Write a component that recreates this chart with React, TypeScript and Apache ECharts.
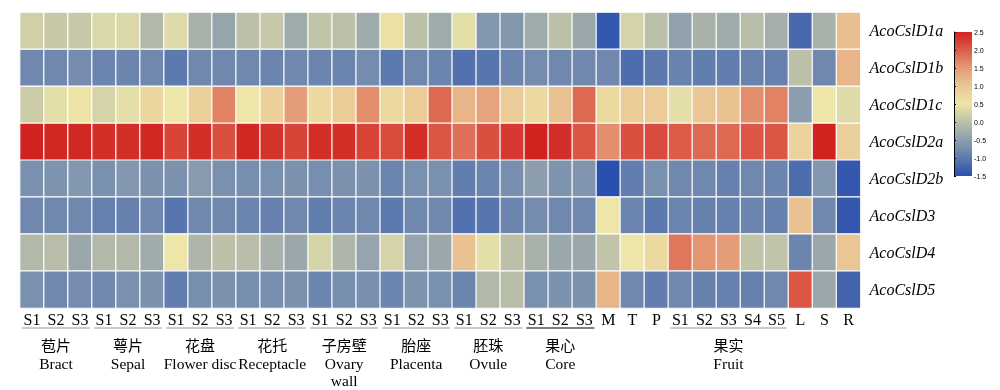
import React, { useEffect, useRef } from "react";
import * as echarts from "echarts";

const colLabels = [
  "S1", "S2", "S3", "S1", "S2", "S3", "S1", "S2", "S3", "S1", "S2", "S3",
  "S1", "S2", "S3", "S1", "S2", "S3", "S1", "S2", "S3", "S1", "S2", "S3",
  "M", "T", "P", "S1", "S2", "S3", "S4", "S5", "L", "S", "R",
];
const groupZh = ["苞片", "萼片", "花盘", "花托", "子房壁", "胎座", "胚珠", "果心", "果实"];
const groupEn = ["Bract", "Sepal", "Flower disc", "Receptacle", "Ovary\nwall", "Placenta", "Ovule", "Core", "Fruit"];
const groupStart = [0, 3, 6, 9, 12, 15, 18, 21, 27];
const groupSize = [3, 3, 3, 3, 3, 3, 3, 3, 5];

const genes = ["AcoCslD1a", "AcoCslD1b", "AcoCslD1c", "AcoCslD2a", "AcoCslD2b", "AcoCslD3", "AcoCslD4", "AcoCslD5"];

const d1a = [0.2, 0.1, 0.1, 0.3, 0.3, -0.1, 0.35, -0.2, -0.4, 0.0, 0.1, -0.3, 0.05, 0.0, -0.3, 0.6, 0.0, -0.3, 0.4, -0.6, -0.6, -0.3, 0.0, -0.35, -1.4, 0.25, 0.0, -0.45, -0.2, -0.3, -0.05, -0.25, -1.2, -0.2, 1.1];
const d1b = [-0.8, -0.8, -0.75, -0.85, -0.85, -0.8, -1.0, -0.8, -0.8, -0.8, -0.85, -0.8, -0.85, -0.85, -0.75, -1.0, -0.8, -0.85, -1.1, -1.05, -0.85, -0.75, -0.8, -0.8, -0.8, -1.15, -1.0, -0.88, -0.95, -0.95, -0.88, -0.9, 0.0, -0.8, 1.2];
const d1c = [0.15, 0.4, 0.55, 0.25, 0.4, 0.75, 0.5, 0.85, 1.7, 0.5, 0.85, 1.5, 0.7, 0.9, 1.6, 0.7, 0.9, 1.9, 1.2, 1.4, 0.9, 0.7, 1.05, 1.9, 0.7, 0.9, 0.9, 0.4, 1.0, 1.05, 1.6, 1.7, -0.5, 0.5, 0.35];
const d2a = [2.5, 2.45, 2.45, 2.4, 2.4, 2.45, 2.2, 2.4, 2.1, 2.45, 2.35, 2.2, 2.4, 2.4, 2.2, 2.15, 2.4, 2.05, 1.85, 2.1, 2.3, 2.5, 2.4, 2.05, 1.6, 2.1, 2.15, 2.0, 1.9, 1.9, 2.05, 2.05, 0.8, 2.5, 0.85];
const d2b = [-0.7, -0.65, -0.6, -0.7, -0.6, -0.68, -0.68, -0.55, -0.7, -0.72, -0.7, -0.68, -0.72, -0.68, -0.68, -0.85, -0.7, -0.7, -0.95, -0.85, -0.72, -0.5, -0.65, -0.62, -1.5, -0.95, -0.7, -0.8, -0.8, -0.9, -0.8, -0.85, -1.15, -0.6, -1.4];
const d3 = [-0.8, -0.8, -0.8, -0.9, -0.9, -0.8, -1.05, -0.8, -0.8, -0.85, -0.9, -0.8, -0.95, -0.85, -0.8, -1.0, -0.8, -0.8, -1.1, -1.05, -0.85, -0.75, -0.8, -0.8, 0.5, -0.85, -1.0, -0.85, -0.9, -0.9, -0.85, -0.9, 1.05, -0.8, -1.4];
const d4 = [-0.1, -0.05, -0.35, -0.1, -0.1, -0.3, 0.5, -0.15, 0.0, -0.05, -0.2, -0.35, 0.25, -0.15, -0.4, 0.25, -0.4, -0.35, 1.05, 0.4, 0.0, -0.2, -0.35, -0.35, 0.05, 0.5, 0.7, 1.8, 1.55, 1.5, 0.05, 0.05, -0.85, -0.35, 1.0];
const d5 = [-0.7, -0.8, -0.75, -0.8, -0.7, -0.68, -0.95, -0.72, -0.68, -0.72, -0.72, -0.68, -0.85, -0.72, -0.72, -0.85, -0.65, -0.7, -0.85, -0.1, -0.05, -0.7, -0.68, -0.68, 1.2, -0.8, -0.95, -0.8, -0.9, -0.9, -0.9, -0.8, 2.05, -0.35, -1.25];
const rows = [d1a, d1b, d1c, d2a, d2b, d3, d4, d5];

const scaleMin = -1.5;
const scaleMax = 2.5;
const scaleStep = 0.5;
// low -> high
const palette = ["#2a4fae", "#5d7aae", "#8c9eae", "#bcc0a8", "#eee6a8", "#eac695", "#e59c78", "#dc5c48", "#d1221f"];

const SERIF = "'Liberation Serif', 'Times New Roman', 'Noto Sans CJK SC', serif";
const CB = { left: 954, top: 32, width: 18, height: 144 };

export default function App() {
  const ref = useRef<HTMLDivElement>(null);
  useEffect(() => {
    if (!ref.current) return;
    const chart = echarts.init(ref.current, null, { renderer: "svg" });
    const data: number[][] = [];
    rows.forEach((r, ri) => r.forEach((v, ci) => data.push([ci, ri, v])));
    chart.setOption({
      animation: false,
      grid: [
        { left: 20, top: 12.5, width: 840.5, height: 295.5 },
        { left: CB.left, top: CB.top, width: CB.width, height: CB.height },
      ],
      xAxis: [
        {
          type: "category",
          gridIndex: 0,
          data: colLabels.map((l, i) => ({ value: i + ":" + l })),
          axisLine: { show: false },
          axisTick: { show: false },
          splitLine: { show: false },
          axisLabel: {
            interval: 0,
            margin: 3,
            fontFamily: SERIF,
            fontSize: 16,
            color: "#000",
            formatter: (v: string) => v.split(":")[1],
          },
        },
        { type: "value", gridIndex: 1, show: false, min: 0, max: 1 },
      ],
      yAxis: [
        {
          type: "category",
          gridIndex: 0,
          inverse: true,
          position: "right",
          data: genes,
          axisLine: { show: false },
          axisTick: { show: false },
          splitLine: { show: false },
          axisLabel: {
            margin: 9,
            align: "left",
            fontFamily: SERIF,
            fontStyle: "italic",
            fontSize: 16,
            color: "#000",
            padding: [4, 0, 0, 0],
          },
        },
        {
          type: "value",
          gridIndex: 1,
          position: "right",
          min: scaleMin,
          max: scaleMax,
          interval: scaleStep,
          axisLine: { show: true, lineStyle: { color: "#000", width: 1 } },
          axisTick: { show: true, length: 2, lineStyle: { color: "#000" } },
          splitLine: { show: false },
          axisLabel: {
            margin: 2,
            fontFamily: "'Liberation Sans', Arial, sans-serif",
            fontSize: 7,
            color: "#000",
            formatter: (v: number) => v.toFixed(1),
          },
        },
      ],
      visualMap: {
        type: "continuous",
        show: false,
        min: scaleMin,
        max: scaleMax,
        seriesIndex: 0,
        dimension: 2,
        inRange: { color: palette },
      },
      series: [
        {
          type: "heatmap",
          xAxisIndex: 0,
          yAxisIndex: 0,
          data,
          itemStyle: { borderColor: "#fff", borderWidth: 1.2, borderRadius: 1 },
          emphasis: { disabled: true },
        },
      ],
    });

    // annotations computed from the axes
    const x0 = chart.convertToPixel({ xAxisIndex: 0 }, 0) as number;
    const x1 = chart.convertToPixel({ xAxisIndex: 0 }, 1) as number;
    const bw = x1 - x0;
    const yLast = chart.convertToPixel({ yAxisIndex: 0 }, genes.length - 1) as number;
    const y0 = chart.convertToPixel({ yAxisIndex: 0 }, 0) as number;
    const y1 = chart.convertToPixel({ yAxisIndex: 0 }, 1) as number;
    const gridBottom = yLast + Math.abs(y1 - y0) / 2;
    const elements: any[] = [];
    groupZh.forEach((zh, gi) => {
      const s = groupStart[gi];
      const e = s + groupSize[gi] - 1;
      const xs = chart.convertToPixel({ xAxisIndex: 0 }, s) as number;
      const xe = chart.convertToPixel({ xAxisIndex: 0 }, e) as number;
      const cx = (xs + xe) / 2;
      elements.push({
        type: "line",
        shape: { x1: xs - bw / 2 + 2, y1: gridBottom + 20, x2: xe + bw / 2 - 2, y2: gridBottom + 20 },
        style: { stroke: gi === 7 ? "#555" : "#b8b8b8", lineWidth: 1.5 },
        silent: true,
      });
      elements.push({
        type: "text",
        x: cx,
        y: gridBottom + 36,
        style: { text: zh, fill: "#000", font: "15px 'Noto Sans CJK SC', sans-serif", textAlign: "center", textVerticalAlign: "middle" },
        silent: true,
      });
      elements.push({
        type: "text",
        x: cx,
        y: gridBottom + 47,
        style: {
          text: groupEn[gi],
          fill: "#000",
          fontFamily: SERIF,
          fontSize: 15.5,
          lineHeight: 17,
          textAlign: "center",
          textVerticalAlign: "top",
        },
        silent: true,
      });
    });
    elements.push({
      type: "rect",
      shape: { x: CB.left, y: CB.top, width: CB.width, height: CB.height },
      style: {
        fill: new echarts.graphic.LinearGradient(
          0, 0, 0, 1,
          palette.slice().reverse().map((c, i) => ({ offset: i / (palette.length - 1), color: c }))
        ),
      },
      z: -1,
      silent: true,
    });
    chart.setOption({ graphic: elements });
    return () => chart.dispose();
  }, []);
  return <div ref={ref} style={{ position: "fixed", left: 0, top: 0, width: 1000, height: 390 }} />;
}
